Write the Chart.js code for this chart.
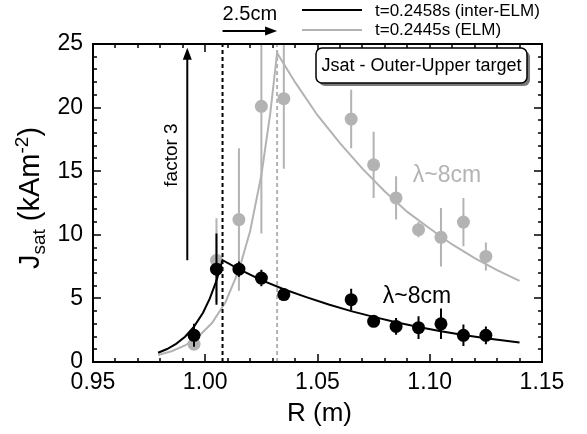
<!DOCTYPE html>
<html><head><meta charset="utf-8">
<script src="https://cdn.jsdelivr.net/npm/chart.js@4.4.1/dist/chart.umd.min.js"></script>
<style>html,body{margin:0;padding:0;background:#fff}#wrap{width:587px;height:434px;position:relative}</style>
</head><body><div id="wrap"><canvas id="c"></canvas></div>
<script>
// ---- data ----
const R_points = [0.995, 1.005, 1.015, 1.025, 1.035, 1.065, 1.075, 1.085, 1.095, 1.105, 1.115, 1.125];
const J_inter  = [2.1, 7.3, 7.3, 6.6, 5.3, 4.9, 3.2, 2.8, 2.7, 3.0, 2.1, 2.1];
const err_inter= [0.9, 2.8, 0.6, 0.65, 0.3, 0.85, 0.45, 0.65, 0.9, 1.2, 0.85, 0.7];
const J_elm    = [1.4, 8.0, 11.2, 20.1, 20.7, 19.1, 15.5, 12.9, 10.4, 9.8, 11.0, 8.3];
const err_elm  = [0.3, 3.3, 5.6, 10.0, 5.5, 2.3, 2.6, 1.7, 0.6, 2.3, 1.9, 1.1];

const fit_inter_R = [0.979, 0.983, 0.987, 0.991, 0.995, 0.999, 1.002, 1.005, 1.0077, 1.015, 1.025, 1.035, 1.045, 1.055, 1.065, 1.075, 1.085, 1.095, 1.105, 1.115, 1.125, 1.14];
const fit_inter_J = [0.73, 1.02, 1.43, 1.99, 2.78, 3.87, 4.98, 6.39, 8.0, 7.3, 6.44, 5.72, 5.1, 4.52, 4.0, 3.55, 3.12, 2.75, 2.42, 2.12, 1.87, 1.54];
const fit_elm_R = [0.979, 0.985, 0.991, 0.997, 1.003, 1.009, 1.015, 1.020, 1.025, 1.029, 1.032, 1.04, 1.05, 1.06, 1.07, 1.08, 1.09, 1.10, 1.11, 1.12, 1.13, 1.14];
const fit_elm_J = [0.55, 0.85, 1.30, 2.00, 3.06, 4.70, 7.22, 10.3, 14.7, 19.6, 24.3, 22.0, 19.4, 17.2, 15.2, 13.4, 11.8, 10.5, 9.24, 8.17, 7.22, 6.37];

const sep_inter = 1.0077;   // separatrix, inter-ELM
const sep_elm   = 1.032;    // separatrix, ELM
const xTicks = [0.95, 1.00, 1.05, 1.10, 1.15];
const xTickLabels = ['0.95', '1.00', '1.05', '1.10', '1.15'];
const yTicks = [0, 5, 10, 15, 20, 25];
const yTickLabels = ['0', '5', '10', '15', '20', '25'];
const legendLabels = ['t=0.2458s (inter-ELM)', 't=0.2445s (ELM)'];
const boxLabel = 'Jsat - Outer-Upper target';
const lambdaLabel = 'λ~8cm';
const factorLabel = 'factor 3';
const shiftLabel = '2.5cm';
const factorArrow = [8.0, 24.7];

// ---- styling ----
const BLACK = '#000000';
const GRAY = '#b3b3b3';
const FONT = '"Liberation Sans", Arial, Helvetica, sans-serif';

const pts = (R, J) => R.map((r, i) => ({x: r, y: J[i]}));
function errSegs(R, J, E) {
  const out = [];
  R.forEach((r, i) => { out.push({x: r, y: J[i] - E[i]}, {x: r, y: J[i] + E[i]}, {x: r, y: null}); });
  return out;
}

const decor = {
  id: 'decor',
  afterDatasetsDraw(chart) {
    const {ctx, chartArea: a, scales: {x, y}} = chart;
    ctx.save();
    // frame
    ctx.strokeStyle = '#000'; ctx.lineWidth = 2;
    ctx.strokeRect(a.left, a.top, a.right - a.left, a.bottom - a.top);
    // inward ticks
    ctx.lineWidth = 1.5;
    ctx.beginPath();
    for (let i = 0; i <= 20; i++) {
      const px = Math.round(x.getPixelForValue(xTicks[0] + i * 0.01));
      const L = i % 5 === 0 ? 8 : 4;
      ctx.moveTo(px, a.bottom); ctx.lineTo(px, a.bottom - L);
      ctx.moveTo(px, a.top); ctx.lineTo(px, a.top + L);
    }
    for (let i = 0; i <= 25; i++) {
      const py = Math.round(y.getPixelForValue(i));
      const L = i % 5 === 0 ? 8 : 4;
      ctx.moveTo(a.left, py); ctx.lineTo(a.left + L, py);
      ctx.moveTo(a.right, py); ctx.lineTo(a.right - L, py);
    }
    ctx.stroke();

    // factor 3 arrow
    const fx = x.getPixelForValue(0.992);
    const fy0 = y.getPixelForValue(factorArrow[0]), fy1 = y.getPixelForValue(factorArrow[1]);
    ctx.strokeStyle = '#000'; ctx.fillStyle = '#000'; ctx.lineWidth = 2;
    ctx.beginPath(); ctx.moveTo(fx, fy0); ctx.lineTo(fx, fy1 + 10); ctx.stroke();
    ctx.beginPath(); ctx.moveTo(fx, fy1); ctx.lineTo(fx - 4.5, fy1 + 12); ctx.lineTo(fx + 4.5, fy1 + 12); ctx.closePath(); ctx.fill();
    ctx.save();
    ctx.translate(172, 155); ctx.rotate(-Math.PI / 2);
    ctx.font = '19px ' + FONT; ctx.textAlign = 'center'; ctx.textBaseline = 'middle';
    ctx.fillText(factorLabel, 0, 0);
    ctx.restore();

    // 2.5cm arrow above plot
    const ax0 = x.getPixelForValue(sep_inter), ax1 = x.getPixelForValue(sep_elm);
    const ay = 31;
    ctx.beginPath(); ctx.moveTo(ax0, ay); ctx.lineTo(ax1 - 10, ay); ctx.stroke();
    ctx.beginPath(); ctx.moveTo(ax1, ay); ctx.lineTo(ax1 - 12, ay - 4.5); ctx.lineTo(ax1 - 12, ay + 4.5); ctx.closePath(); ctx.fill();
    ctx.font = '20px ' + FONT; ctx.textAlign = 'center'; ctx.textBaseline = 'middle';
    ctx.fillText(shiftLabel, (ax0 + ax1) / 2, 14);

    // legend
    ctx.lineWidth = 2;
    ctx.strokeStyle = BLACK; ctx.beginPath(); ctx.moveTo(302, 10); ctx.lineTo(362, 10); ctx.stroke();
    ctx.strokeStyle = GRAY; ctx.beginPath(); ctx.moveTo(302, 30); ctx.lineTo(362, 30); ctx.stroke();
    ctx.fillStyle = '#000'; ctx.font = '17px ' + FONT; ctx.textAlign = 'left';
    ctx.fillText(legendLabels[0], 375, 11);
    ctx.fillText(legendLabels[1], 375, 30);

    // label box with shadow
    const bx = 316, by = 48, bw = 211, bh = 35, r = 6;
    const rr = (X, Y) => { ctx.beginPath(); ctx.roundRect(X, Y, bw, bh, r); };
    ctx.fillStyle = '#7a7a7a'; rr(bx + 3, by + 3); ctx.fill();
    ctx.fillStyle = '#fff'; rr(bx, by); ctx.fill();
    ctx.strokeStyle = '#000'; ctx.lineWidth = 1.5; rr(bx, by); ctx.stroke();
    ctx.fillStyle = '#000'; ctx.font = '18px ' + FONT; ctx.textAlign = 'center'; ctx.textBaseline = 'middle';
    ctx.fillText(boxLabel, bx + bw / 2, by + bh / 2 + 1);

    // lambda labels
    ctx.font = '23px ' + FONT;
    ctx.fillStyle = GRAY; ctx.fillText(lambdaLabel, 447, 176);
    ctx.fillStyle = BLACK; ctx.fillText(lambdaLabel, 417, 297);

    // x title
    ctx.font = '26px ' + FONT; ctx.fillStyle = '#000';
    ctx.fillText('R (m)', (a.left + a.right) / 2 + 2, 414);

    // y title  J_sat (kAm^-2)
    ctx.save();
    ctx.translate(39, 198); ctx.rotate(-Math.PI / 2);
    ctx.textAlign = 'left'; ctx.textBaseline = 'alphabetic';
    const big = '29px ' + FONT, small = '19px ' + FONT;
    const parts = [['J', big, 0], ['sat', small, 6], [' (kAm', big, 0], ['-2', small, -11], [')', big, 0]];
    let tot = 0;
    parts.forEach(p => { ctx.font = p[1]; tot += ctx.measureText(p[0]).width; });
    let cx = -tot / 2;
    parts.forEach(p => { ctx.font = p[1]; ctx.fillText(p[0], cx, p[2]); cx += ctx.measureText(p[0]).width; });
    ctx.restore();

    ctx.restore();
  }
};

const lineBase = {showLine: true, pointRadius: 0, pointHoverRadius: 0, fill: false, tension: 0};

new Chart(document.getElementById('c'), {
  type: 'scatter',
  data: {
    datasets: [
      // black (inter-ELM) on top
      {label: 'inter-ELM points', data: pts(R_points, J_inter), backgroundColor: BLACK, borderWidth: 0, pointRadius: 6.5, order: 0},
      {label: 'inter-ELM errors', data: errSegs(R_points, J_inter, err_inter), ...lineBase, borderColor: BLACK, borderWidth: 2, spanGaps: false, clip: 0, order: 1},
      {label: 'inter-ELM fit', data: pts(fit_inter_R, fit_inter_J), ...lineBase, borderColor: BLACK, borderWidth: 2, order: 2},
      {label: 'inter-ELM sep', data: [{x: sep_inter, y: 0}, {x: sep_inter, y: 25}], ...lineBase, borderColor: BLACK, borderWidth: 2, borderDash: [4, 3], clip: 0, order: 3},
      // gray (ELM) behind
      {label: 'ELM points', data: pts(R_points, J_elm), backgroundColor: GRAY, borderWidth: 0, pointRadius: 6.5, order: 4},
      {label: 'ELM errors', data: errSegs(R_points, J_elm, err_elm), ...lineBase, borderColor: GRAY, borderWidth: 2, spanGaps: false, clip: 0, order: 5},
      {label: 'ELM fit', data: pts(fit_elm_R, fit_elm_J), ...lineBase, borderColor: GRAY, borderWidth: 2, order: 6},
      {label: 'ELM sep', data: [{x: sep_elm, y: 0}, {x: sep_elm, y: 25}], ...lineBase, borderColor: GRAY, borderWidth: 2, borderDash: [4, 3], clip: 0, order: 7}
    ]
  },
  options: {
    responsive: true, maintainAspectRatio: false, animation: false,
    layout: {padding: {top: 44, right: 45, left: 0, bottom: 0}},
    plugins: {legend: {display: false}, tooltip: {enabled: false}},
    scales: {
      x: {
        type: 'linear', min: 0.95, max: 1.15,
        grid: {display: false, drawTicks: false},
        border: {display: false},
        afterBuildTicks: s => { s.ticks = xTicks.map(v => ({value: v})); },
        afterFit: s => { s.height = 72; },
        ticks: {color: '#000', font: {size: 23, family: FONT}, padding: 7, maxRotation: 0, autoSkip: false,
          callback: (v, i) => xTickLabels[i]}
      },
      y: {
        type: 'linear', min: 0, max: 25,
        grid: {display: false, drawTicks: false},
        border: {display: false},
        afterBuildTicks: s => { s.ticks = yTicks.map(v => ({value: v})); },
        afterFit: s => { s.width = 93; },
        ticks: {color: '#000', font: {size: 23, family: FONT}, padding: 10, autoSkip: false,
          callback: (v, i) => yTickLabels[i]}
      }
    }
  },
  plugins: [decor]
});
</script>
</body></html>
